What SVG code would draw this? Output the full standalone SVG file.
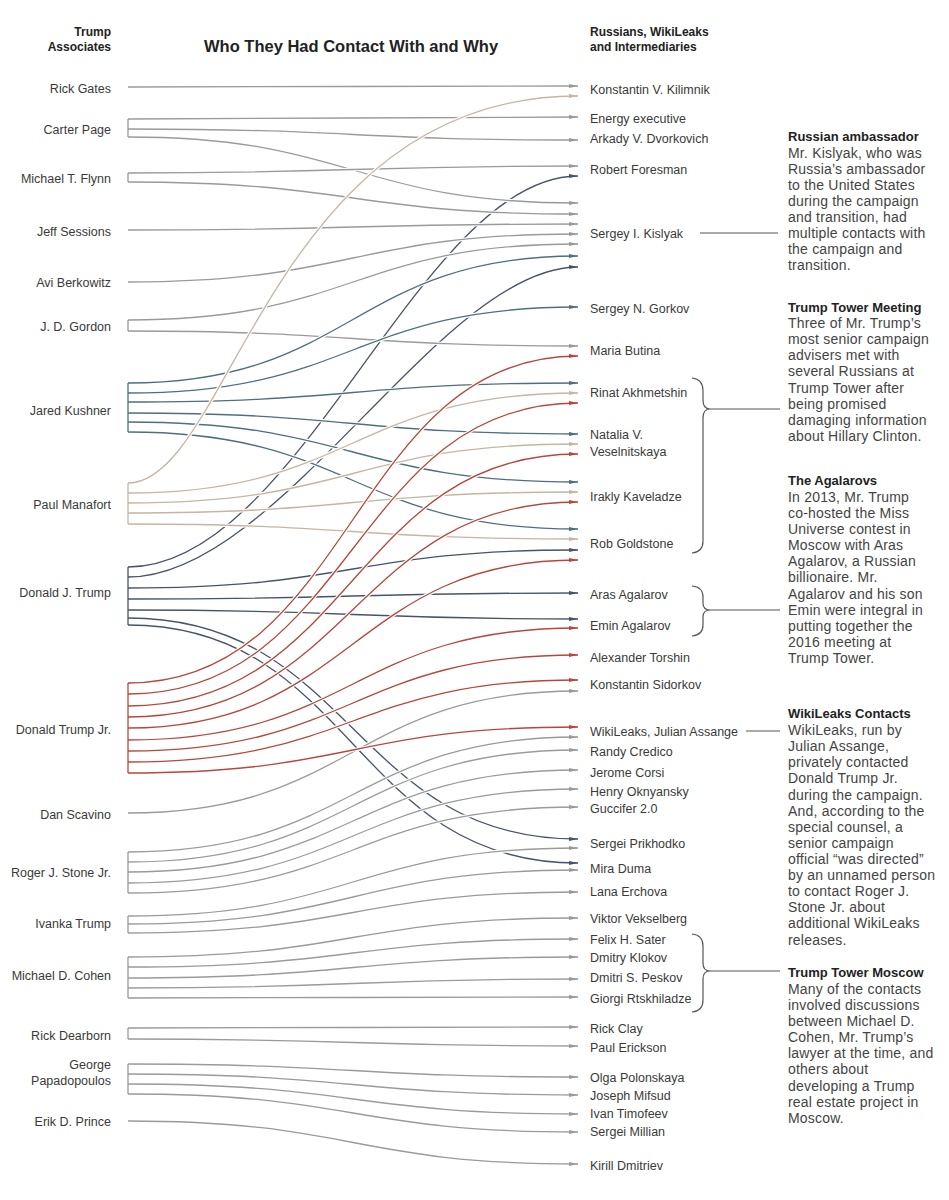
<svg xmlns="http://www.w3.org/2000/svg" width="949" height="1200" viewBox="0 0 949 1200">
<style>
text{font-family:"Liberation Sans",Arial,sans-serif;font-size:12.5px;fill:#3a3a3a}
.la{text-anchor:end}
.hd{font-weight:bold;fill:#222;font-size:12px}
.tt{font-weight:bold;fill:#222;font-size:16.5px}
.at{font-weight:bold;fill:#222;font-size:13px}
.ab{font-size:14px;letter-spacing:0.2px;fill:#444}
.h{fill:none;stroke:#fff;stroke-width:3.6}
.l{fill:none;stroke-width:1.3}
.g{stroke:#9a9a9a;marker-end:url(#ag)}
.d{stroke:#46536a;marker-end:url(#ad)}
.t{stroke:#4f6f7d;marker-end:url(#at)}
.b{stroke:#c6b5a2;marker-end:url(#ab)}
.r{stroke:#b5473c;marker-end:url(#ar)}
.bk{fill:none;stroke-width:1.3}
.br{fill:none;stroke:#555;stroke-width:1.2}
</style>
<defs>
<marker id="ag" viewBox="0 0 9 5" refX="9" refY="2.5" markerWidth="9" markerHeight="5" markerUnits="userSpaceOnUse" orient="auto"><path d="M0,0.5 L9,2.5 L0,4.5 z" fill="#9a9a9a"/></marker>
<marker id="ad" viewBox="0 0 9 5" refX="9" refY="2.5" markerWidth="9" markerHeight="5" markerUnits="userSpaceOnUse" orient="auto"><path d="M0,0.5 L9,2.5 L0,4.5 z" fill="#46536a"/></marker>
<marker id="at" viewBox="0 0 9 5" refX="9" refY="2.5" markerWidth="9" markerHeight="5" markerUnits="userSpaceOnUse" orient="auto"><path d="M0,0.5 L9,2.5 L0,4.5 z" fill="#4f6f7d"/></marker>
<marker id="ab" viewBox="0 0 9 5" refX="9" refY="2.5" markerWidth="9" markerHeight="5" markerUnits="userSpaceOnUse" orient="auto"><path d="M0,0.5 L9,2.5 L0,4.5 z" fill="#c6b5a2"/></marker>
<marker id="ar" viewBox="0 0 9 5" refX="9" refY="2.5" markerWidth="9" markerHeight="5" markerUnits="userSpaceOnUse" orient="auto"><path d="M0,0.5 L9,2.5 L0,4.5 z" fill="#b5473c"/></marker>
</defs>
<rect width="949" height="1200" fill="#fff"/>

<g id="headers">
<text class="hd la" x="111" y="36">Trump</text>
<text class="hd la" x="111" y="51">Associates</text>
<text class="tt" x="204" y="52">Who They Had Contact With and Why</text>
<text class="hd" x="590" y="36">Russians, WikiLeaks</text>
<text class="hd" x="590" y="50.5">and Intermediaries</text>
</g>

<g id="connectors">
<path class="h" d="M128,567 C300,567 420,176 578,176"/><path class="l d" d="M128,567 C300,567 420,176 578,176"/>
<path class="h" d="M128,577 C280,577 440,267 578,267"/><path class="l d" d="M128,577 C280,577 440,267 578,267"/>
<path class="h" d="M128,588 C353,588 353,550 578,550"/><path class="l d" d="M128,588 C353,588 353,550 578,550"/>
<path class="h" d="M128,599 C353,599 353,593 578,593"/><path class="l d" d="M128,599 C353,599 353,593 578,593"/>
<path class="h" d="M128,610 C353,610 353,619 578,619"/><path class="l d" d="M128,610 C353,610 353,619 578,619"/>
<path class="h" d="M128,618 C353,618 353,839 578,839"/><path class="l d" d="M128,618 C353,618 353,839 578,839"/>
<path class="h" d="M128,625 C353,625 353,863 578,863"/><path class="l d" d="M128,625 C353,625 353,863 578,863"/>

<path class="h" d="M128,87 C353,87 353,86 578,86"/><path class="l g" d="M128,87 C353,87 353,86 578,86"/>
<path class="h" d="M128,119 C353,119 353,117 578,117"/><path class="l g" d="M128,119 C353,119 353,117 578,117"/>
<path class="h" d="M128,129 C353,129 353,140 578,140"/><path class="l g" d="M128,129 C353,129 353,140 578,140"/>
<path class="h" d="M128,137 C353,137 353,203 578,203"/><path class="l g" d="M128,137 C353,137 353,203 578,203"/>
<path class="h" d="M128,173 C353,173 353,166 578,166"/><path class="l g" d="M128,173 C353,173 353,166 578,166"/>
<path class="h" d="M128,182 C353,182 353,214 578,214"/><path class="l g" d="M128,182 C353,182 353,214 578,214"/>
<path class="h" d="M128,230 C353,230 353,224 578,224"/><path class="l g" d="M128,230 C353,230 353,224 578,224"/>
<path class="h" d="M128,282 C353,282 353,234 578,234"/><path class="l g" d="M128,282 C353,282 353,234 578,234"/>
<path class="h" d="M128,320 C353,320 353,244 578,244"/><path class="l g" d="M128,320 C353,320 353,244 578,244"/>
<path class="h" d="M128,331 C353,331 353,346 578,346"/><path class="l g" d="M128,331 C353,331 353,346 578,346"/>
<path class="h" d="M128,813 C353,813 353,691 578,691"/><path class="l g" d="M128,813 C353,813 353,691 578,691"/>
<path class="h" d="M128,852 C353,852 353,737 578,737"/><path class="l g" d="M128,852 C353,852 353,737 578,737"/>
<path class="h" d="M128,862 C353,862 353,750 578,750"/><path class="l g" d="M128,862 C353,862 353,750 578,750"/>
<path class="h" d="M128,872 C353,872 353,770 578,770"/><path class="l g" d="M128,872 C353,872 353,770 578,770"/>
<path class="h" d="M128,883 C353,883 353,789 578,789"/><path class="l g" d="M128,883 C353,883 353,789 578,789"/>
<path class="h" d="M128,893 C353,893 353,807 578,807"/><path class="l g" d="M128,893 C353,893 353,807 578,807"/>
<path class="h" d="M128,916 C353,916 353,848 578,848"/><path class="l g" d="M128,916 C353,916 353,848 578,848"/>
<path class="h" d="M128,924 C353,924 353,870 578,870"/><path class="l g" d="M128,924 C353,924 353,870 578,870"/>
<path class="h" d="M128,933 C353,933 353,892 578,892"/><path class="l g" d="M128,933 C353,933 353,892 578,892"/>
<path class="h" d="M128,957 C353,957 353,918 578,918"/><path class="l g" d="M128,957 C353,957 353,918 578,918"/>
<path class="h" d="M128,967 C353,967 353,939 578,939"/><path class="l g" d="M128,967 C353,967 353,939 578,939"/>
<path class="h" d="M128,978 C353,978 353,957 578,957"/><path class="l g" d="M128,978 C353,978 353,957 578,957"/>
<path class="h" d="M128,988 C353,988 353,979 578,979"/><path class="l g" d="M128,988 C353,988 353,979 578,979"/>
<path class="h" d="M128,998 C353,998 353,997 578,997"/><path class="l g" d="M128,998 C353,998 353,997 578,997"/>
<path class="h" d="M128,1028 C353,1028 353,1027 578,1027"/><path class="l g" d="M128,1028 C353,1028 353,1027 578,1027"/>
<path class="h" d="M128,1039 C353,1039 353,1046 578,1046"/><path class="l g" d="M128,1039 C353,1039 353,1046 578,1046"/>
<path class="h" d="M128,1064 C353,1064 353,1077 578,1077"/><path class="l g" d="M128,1064 C353,1064 353,1077 578,1077"/>
<path class="h" d="M128,1074 C353,1074 353,1095 578,1095"/><path class="l g" d="M128,1074 C353,1074 353,1095 578,1095"/>
<path class="h" d="M128,1084 C353,1084 353,1114 578,1114"/><path class="l g" d="M128,1084 C353,1084 353,1114 578,1114"/>
<path class="h" d="M128,1094 C353,1094 353,1132 578,1132"/><path class="l g" d="M128,1094 C353,1094 353,1132 578,1132"/>
<path class="h" d="M128,1121 C353,1121 353,1164 578,1164"/><path class="l g" d="M128,1121 C353,1121 353,1164 578,1164"/>

<path class="h" d="M128,383 C353,383 353,256 578,256"/><path class="l t" d="M128,383 C353,383 353,256 578,256"/>
<path class="h" d="M128,393 C353,393 353,307 578,307"/><path class="l t" d="M128,393 C353,393 353,307 578,307"/>
<path class="h" d="M128,402 C353,402 353,383 578,383"/><path class="l t" d="M128,402 C353,402 353,383 578,383"/>
<path class="h" d="M128,413 C353,413 353,434 578,434"/><path class="l t" d="M128,413 C353,413 353,434 578,434"/>
<path class="h" d="M128,422 C353,422 353,482 578,482"/><path class="l t" d="M128,422 C353,422 353,482 578,482"/>
<path class="h" d="M128,432 C353,432 353,529 578,529"/><path class="l t" d="M128,432 C353,432 353,529 578,529"/>

<path class="h" d="M128,483 C230,483 270,96 578,96"/><path class="l b" d="M128,483 C230,483 270,96 578,96"/>
<path class="h" d="M128,493 C353,493 353,393 578,393"/><path class="l b" d="M128,493 C353,493 353,393 578,393"/>
<path class="h" d="M128,503 C353,503 353,444 578,444"/><path class="l b" d="M128,503 C353,503 353,444 578,444"/>
<path class="h" d="M128,513 C353,513 353,492 578,492"/><path class="l b" d="M128,513 C353,513 353,492 578,492"/>
<path class="h" d="M128,524 C353,524 353,539 578,539"/><path class="l b" d="M128,524 C353,524 353,539 578,539"/>

<path class="h" d="M128,683 C353,683 353,356 578,356"/><path class="l r" d="M128,683 C353,683 353,356 578,356"/>
<path class="h" d="M128,694 C353,694 353,403 578,403"/><path class="l r" d="M128,694 C353,694 353,403 578,403"/>
<path class="h" d="M128,706 C353,706 353,454 578,454"/><path class="l r" d="M128,706 C353,706 353,454 578,454"/>
<path class="h" d="M128,717 C353,717 353,502 578,502"/><path class="l r" d="M128,717 C353,717 353,502 578,502"/>
<path class="h" d="M128,728 C353,728 353,560 578,560"/><path class="l r" d="M128,728 C353,728 353,560 578,560"/>
<path class="h" d="M128,740 C353,740 353,628 578,628"/><path class="l r" d="M128,740 C353,740 353,628 578,628"/>
<path class="h" d="M128,751 C353,751 353,655 578,655"/><path class="l r" d="M128,751 C353,751 353,655 578,655"/>
<path class="h" d="M128,762 C353,762 353,680 578,680"/><path class="l r" d="M128,762 C353,762 353,680 578,680"/>
<path class="h" d="M128,773 C353,773 353,727 578,727"/><path class="l r" d="M128,773 C353,773 353,727 578,727"/>
</g>

<g id="associates">
<g id="a-gates"><text class="la" x="111" y="92.5">Rick Gates</text></g>
<g id="a-page"><text class="la" x="111" y="133.5">Carter Page</text><path class="bk" stroke="#9a9a9a" d="M128,119 V137"/></g>
<g id="a-flynn"><text class="la" x="111" y="182.5">Michael T. Flynn</text><path class="bk" stroke="#9a9a9a" d="M128,173 V182"/></g>
<g id="a-sessions"><text class="la" x="111" y="235.5">Jeff Sessions</text></g>
<g id="a-berkowitz"><text class="la" x="111" y="286.5">Avi Berkowitz</text></g>
<g id="a-gordon"><text class="la" x="111" y="330.5">J. D. Gordon</text><path class="bk" stroke="#9a9a9a" d="M128,320 V331"/></g>
<g id="a-kushner"><text class="la" x="111" y="414.5">Jared Kushner</text><path class="bk" stroke="#4f6f7d" d="M128,383 V432"/></g>
<g id="a-manafort"><text class="la" x="111" y="508.5">Paul Manafort</text><path class="bk" stroke="#c6b5a2" d="M128,483 V524"/></g>
<g id="a-trump"><text class="la" x="111" y="596.5">Donald J. Trump</text><path class="bk" stroke="#46536a" d="M128,567 V625"/></g>
<g id="a-trumpjr"><text class="la" x="111" y="733.5">Donald Trump Jr.</text><path class="bk" stroke="#b5473c" d="M128,683 V773"/></g>
<g id="a-scavino"><text class="la" x="111" y="818.5">Dan Scavino</text></g>
<g id="a-stone"><text class="la" x="111" y="876.5">Roger J. Stone Jr.</text><path class="bk" stroke="#9a9a9a" d="M128,852 V893"/></g>
<g id="a-ivanka"><text class="la" x="111" y="927.5">Ivanka Trump</text><path class="bk" stroke="#9a9a9a" d="M128,916 V933"/></g>
<g id="a-cohen"><text class="la" x="111" y="979.5">Michael D. Cohen</text><path class="bk" stroke="#9a9a9a" d="M128,957 V998"/></g>
<g id="a-dearborn"><text class="la" x="111" y="1039.5">Rick Dearborn</text><path class="bk" stroke="#9a9a9a" d="M128,1028 V1039"/></g>
<g id="a-papadopoulos"><text class="la" x="111" y="1068.5">George</text><text class="la" x="111" y="1084.5">Papadopoulos</text><path class="bk" stroke="#9a9a9a" d="M128,1064 V1094"/></g>
<g id="a-prince"><text class="la" x="111" y="1125.5">Erik D. Prince</text></g>
</g>

<g id="contacts">
<g id="c-kilimnik"><text x="590" y="93.5">Konstantin V. Kilimnik</text></g>
<g id="c-energy"><text x="590" y="122.5">Energy executive</text></g>
<g id="c-dvorkovich"><text x="590" y="142.5">Arkady V. Dvorkovich</text></g>
<g id="c-foresman"><text x="590" y="173.5">Robert Foresman</text></g>
<g id="c-kislyak"><text x="590" y="237.5">Sergey I. Kislyak</text></g>
<g id="c-gorkov"><text x="590" y="312.5">Sergey N. Gorkov</text></g>
<g id="c-butina"><text x="590" y="354.5">Maria Butina</text></g>
<g id="c-akhmetshin"><text x="590" y="396.5">Rinat Akhmetshin</text></g>
<g id="c-veselnitskaya"><text x="590" y="438.5">Natalia V.</text><text x="590" y="455.5">Veselnitskaya</text></g>
<g id="c-kaveladze"><text x="590" y="500.5">Irakly Kaveladze</text></g>
<g id="c-goldstone"><text x="590" y="547.5">Rob Goldstone</text></g>
<g id="c-aras"><text x="590" y="598.5">Aras Agalarov</text></g>
<g id="c-emin"><text x="590" y="629.5">Emin Agalarov</text></g>
<g id="c-torshin"><text x="590" y="661.5">Alexander Torshin</text></g>
<g id="c-sidorkov"><text x="590" y="688.5">Konstantin Sidorkov</text></g>
<g id="c-wikileaks"><text x="590" y="735.5">WikiLeaks, Julian Assange</text></g>
<g id="c-credico"><text x="590" y="755.5">Randy Credico</text></g>
<g id="c-corsi"><text x="590" y="776.5">Jerome Corsi</text></g>
<g id="c-oknyansky"><text x="590" y="795.5">Henry Oknyansky</text></g>
<g id="c-guccifer"><text x="590" y="812.5">Guccifer 2.0</text></g>
<g id="c-prikhodko"><text x="590" y="847.5">Sergei Prikhodko</text></g>
<g id="c-duma"><text x="590" y="872.5">Mira Duma</text></g>
<g id="c-erchova"><text x="590" y="895.5">Lana Erchova</text></g>
<g id="c-vekselberg"><text x="590" y="922.5">Viktor Vekselberg</text></g>
<g id="c-sater"><text x="590" y="943.5">Felix H. Sater</text></g>
<g id="c-klokov"><text x="590" y="961.5">Dmitry Klokov</text></g>
<g id="c-peskov"><text x="590" y="981.5">Dmitri S. Peskov</text></g>
<g id="c-rtskhiladze"><text x="590" y="1002.5">Giorgi Rtskhiladze</text></g>
<g id="c-clay"><text x="590" y="1032.5">Rick Clay</text></g>
<g id="c-erickson"><text x="590" y="1051.5">Paul Erickson</text></g>
<g id="c-polonskaya"><text x="590" y="1081.5">Olga Polonskaya</text></g>
<g id="c-mifsud"><text x="590" y="1099.5">Joseph Mifsud</text></g>
<g id="c-timofeev"><text x="590" y="1117.5">Ivan Timofeev</text></g>
<g id="c-millian"><text x="590" y="1135.5">Sergei Millian</text></g>
<g id="c-dmitriev"><text x="590" y="1169.5">Kirill Dmitriev</text></g>
</g>

<g id="notes">
<g id="n-ambassador">
<path class="br" d="M700,233 H778"/>
<text class="at" x="788" y="141">Russian ambassador</text>
<text class="ab" x="788" y="158">Mr. Kislyak, who was</text>
<text class="ab" x="788" y="174">Russia’s ambassador</text>
<text class="ab" x="788" y="190">to the United States</text>
<text class="ab" x="788" y="206">during the campaign</text>
<text class="ab" x="788" y="222">and transition, had</text>
<text class="ab" x="788" y="238">multiple contacts with</text>
<text class="ab" x="788" y="254">the campaign and</text>
<text class="ab" x="788" y="270">transition.</text>
</g>
<g id="n-tower-meeting">
<path class="br" d="M692,378 Q703,379 703,391 L703,400 Q703,409 710,409 Q703,409 703,418 L703,541 Q703,552 692,553"/>
<path class="br" d="M710,409 H780"/>
<text class="at" x="788" y="312">Trump Tower Meeting</text>
<text class="ab" x="788" y="328">Three of Mr. Trump’s</text>
<text class="ab" x="788" y="344">most senior campaign</text>
<text class="ab" x="788" y="360">advisers met with</text>
<text class="ab" x="788" y="376">several Russians at</text>
<text class="ab" x="788" y="393">Trump Tower after</text>
<text class="ab" x="788" y="409">being promised</text>
<text class="ab" x="788" y="425">damaging information</text>
<text class="ab" x="788" y="441">about Hillary Clinton.</text>
</g>
<g id="n-agalarovs">
<path class="br" d="M692,586 Q703,587 703,597 L703,603 Q703,610 710,610 Q703,610 703,617 L703,625 Q703,635 692,636"/>
<path class="br" d="M710,610 H780"/>
<text class="at" x="788" y="485">The Agalarovs</text>
<text class="ab" x="788" y="502">In 2013, Mr. Trump</text>
<text class="ab" x="788" y="518">co-hosted the Miss</text>
<text class="ab" x="788" y="534">Universe contest in</text>
<text class="ab" x="788" y="550">Moscow with Aras</text>
<text class="ab" x="788" y="566">Agalarov, a Russian</text>
<text class="ab" x="788" y="582">billionaire. Mr.</text>
<text class="ab" x="788" y="599">Agalarov and his son</text>
<text class="ab" x="788" y="615">Emin were integral in</text>
<text class="ab" x="788" y="631">putting together the</text>
<text class="ab" x="788" y="647">2016 meeting at</text>
<text class="ab" x="788" y="663">Trump Tower.</text>
</g>
<g id="n-wikileaks">
<path class="br" d="M746,731 H780"/>
<text class="at" x="788" y="718">WikiLeaks Contacts</text>
<text class="ab" x="788" y="735">WikiLeaks, run by</text>
<text class="ab" x="788" y="751">Julian Assange,</text>
<text class="ab" x="788" y="767">privately contacted</text>
<text class="ab" x="788" y="783">Donald Trump Jr.</text>
<text class="ab" x="788" y="800">during the campaign.</text>
<text class="ab" x="788" y="816">And, according to the</text>
<text class="ab" x="788" y="832">special counsel, a</text>
<text class="ab" x="788" y="848">senior campaign</text>
<text class="ab" x="788" y="864">official “was directed”</text>
<text class="ab" x="788" y="880">by an unnamed person</text>
<text class="ab" x="788" y="896">to contact Roger J.</text>
<text class="ab" x="788" y="912">Stone Jr. about</text>
<text class="ab" x="788" y="928">additional WikiLeaks</text>
<text class="ab" x="788" y="945">releases.</text>
</g>
<g id="n-tower-moscow">
<path class="br" d="M692,934 Q703,935 703,946 L703,963 Q703,971 710,971 Q703,971 703,979 L703,1000 Q703,1011 692,1012"/>
<path class="br" d="M710,971 H780"/>
<text class="at" x="788" y="977">Trump Tower Moscow</text>
<text class="ab" x="788" y="994">Many of the contacts</text>
<text class="ab" x="788" y="1010">involved discussions</text>
<text class="ab" x="788" y="1026">between Michael D.</text>
<text class="ab" x="788" y="1042">Cohen, Mr. Trump’s</text>
<text class="ab" x="788" y="1058">lawyer at the time, and</text>
<text class="ab" x="788" y="1074">others about</text>
<text class="ab" x="788" y="1091">developing a Trump</text>
<text class="ab" x="788" y="1107">real estate project in</text>
<text class="ab" x="788" y="1123">Moscow.</text>
</g>
</g>
</svg>
